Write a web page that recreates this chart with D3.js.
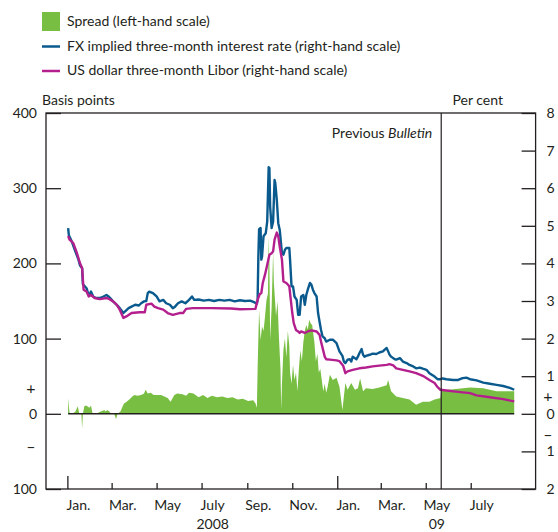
<!DOCTYPE html>
<html><head><meta charset="utf-8">
<script src="https://cdn.jsdelivr.net/npm/d3@7"></script>
<style>
html,body{margin:0;padding:0;background:#fff;}
svg text{font-family:Lato,"Open Sans",sans-serif;fill:#231f20;}
</style></head>
<body><svg id="chart" width="558" height="532"></svg>
<script>
// ---- DATA ----
const legendLabels = ["Spread (left-hand scale)", "FX implied three-month interest rate (right-hand scale)", "US dollar three-month Libor (right-hand scale)"];
const leftTickValues = [400, 300, 200, 100, 0, -100];
const rightTickValues = [8, 7, 6, 5, 4, 3, 2, 1, 0, -1, -2];
const monthTickDates = ["2008-01-01","2008-03-01","2008-05-01","2008-07-01","2008-09-01","2008-11-01","2009-01-01","2009-03-01","2009-05-01","2009-07-01"];
const monthLabels = ["Jan.","Mar.","May","July","Sep.","Nov.","Jan.","Mar.","May","July"];
const yearLabels = ["2008","09"];
const yearLabelDates = ["2008-07-16","2009-05-16"];
const previousBulletinDate = "2009-05-22";

const fxDates = ["2008-01-02","2008-01-03","2008-01-07","2008-01-11","2008-01-16","2008-01-18","2008-01-21","2008-01-22","2008-01-24","2008-01-27","2008-01-29","2008-01-31","2008-02-02","2008-02-05","2008-02-09","2008-02-14","2008-02-19","2008-02-23","2008-02-26","2008-02-28","2008-03-03","2008-03-08","2008-03-12","2008-03-17","2008-03-19","2008-03-24","2008-03-28","2008-04-02","2008-04-07","2008-04-10","2008-04-14","2008-04-17","2008-04-19","2008-04-21","2008-04-26","2008-05-01","2008-05-05","2008-05-10","2008-05-14","2008-05-19","2008-05-23","2008-05-26","2008-05-30","2008-06-04","2008-06-09","2008-06-14","2008-06-18","2008-06-21","2008-06-27","2008-07-04","2008-07-11","2008-07-18","2008-07-25","2008-08-01","2008-08-08","2008-08-15","2008-08-22","2008-08-29","2008-09-05","2008-09-10","2008-09-14","2008-09-15","2008-09-16","2008-09-17","2008-09-19","2008-09-20","2008-09-21","2008-09-23","2008-09-26","2008-09-28","2008-09-30","2008-10-01","2008-10-02","2008-10-04","2008-10-06","2008-10-08","2008-10-09","2008-10-11","2008-10-13","2008-10-15","2008-10-18","2008-10-20","2008-10-22","2008-10-24","2008-10-28","2008-10-29","2008-10-31","2008-11-02","2008-11-04","2008-11-07","2008-11-09","2008-11-11","2008-11-13","2008-11-16","2008-11-18","2008-11-20","2008-11-22","2008-11-25","2008-11-27","2008-11-29","2008-12-01","2008-12-04","2008-12-06","2008-12-08","2008-12-10","2008-12-12","2008-12-15","2008-12-17","2008-12-22","2008-12-26","2008-12-31","2009-01-04","2009-01-08","2009-01-10","2009-01-12","2009-01-15","2009-01-18","2009-01-20","2009-01-22","2009-01-25","2009-01-27","2009-01-29","2009-01-31","2009-02-03","2009-02-05","2009-02-07","2009-02-09","2009-02-14","2009-02-18","2009-02-23","2009-02-27","2009-03-04","2009-03-06","2009-03-09","2009-03-11","2009-03-13","2009-03-15","2009-03-20","2009-03-22","2009-03-27","2009-03-31","2009-04-05","2009-04-09","2009-04-14","2009-04-18","2009-04-23","2009-04-27","2009-05-02","2009-05-06","2009-05-13","2009-05-17","2009-05-21","2009-05-24","2009-05-29","2009-06-07","2009-06-14","2009-06-20","2009-06-25","2009-06-30","2009-07-09","2009-07-18","2009-07-27","2009-08-05","2009-08-14","2009-08-23","2009-08-29"];
const fxValues = [4.94,4.75,4.58,4.36,4.10,3.95,3.87,3.45,3.40,3.34,3.21,3.16,3.25,3.12,3.08,3.08,3.12,3.16,3.12,3.08,2.99,2.90,2.81,2.68,2.72,2.81,2.85,2.90,2.88,2.94,2.99,3.00,3.21,3.25,3.21,3.12,2.99,3.03,2.94,2.90,2.81,2.85,2.94,2.99,2.94,3.03,3.12,3.03,3.04,3.01,3.03,3.00,3.03,3.01,3.03,2.99,3.02,3.00,3.01,2.97,2.93,3.03,4.18,4.91,4.94,4.10,4.18,4.72,4.80,5.11,6.56,6.53,5.51,4.94,5.11,6.22,6.13,5.69,5.07,4.89,4.27,4.23,4.36,4.41,4.41,4.10,3.39,3.39,3.12,3.03,2.63,2.63,3.12,3.16,2.90,3.16,3.30,3.48,3.43,3.30,3.21,3.12,2.68,2.45,2.23,2.06,2.01,1.92,1.97,1.97,1.88,1.66,1.54,1.39,1.35,1.44,1.45,1.39,1.52,1.48,1.45,1.52,1.61,1.72,1.57,1.52,1.54,1.57,1.60,1.59,1.63,1.66,1.70,1.75,1.66,1.57,1.52,1.45,1.44,1.48,1.39,1.35,1.30,1.26,1.21,1.23,1.20,1.17,1.08,0.99,0.92,0.92,0.94,0.92,0.90,0.90,0.95,0.96,0.92,0.89,0.83,0.80,0.77,0.74,0.69,0.64];

const liborDates = ["2008-01-02","2008-01-04","2008-01-09","2008-01-14","2008-01-18","2008-01-21","2008-01-23","2008-01-27","2008-01-30","2008-02-02","2008-02-07","2008-02-14","2008-02-23","2008-02-27","2008-03-03","2008-03-08","2008-03-12","2008-03-17","2008-03-21","2008-03-28","2008-04-08","2008-04-15","2008-04-17","2008-04-24","2008-04-28","2008-05-03","2008-05-10","2008-05-16","2008-05-23","2008-06-01","2008-06-06","2008-06-10","2008-06-19","2008-07-15","2008-08-10","2008-08-22","2008-09-12","2008-09-15","2008-09-18","2008-09-20","2008-09-22","2008-09-25","2008-09-27","2008-10-01","2008-10-04","2008-10-06","2008-10-08","2008-10-11","2008-10-13","2008-10-15","2008-10-18","2008-10-20","2008-10-24","2008-10-28","2008-10-30","2008-11-01","2008-11-03","2008-11-06","2008-11-09","2008-11-11","2008-11-13","2008-11-18","2008-11-22","2008-11-27","2008-12-04","2008-12-08","2008-12-10","2008-12-15","2008-12-17","2008-12-22","2008-12-31","2009-01-04","2009-01-09","2009-01-12","2009-01-15","2009-01-22","2009-01-31","2009-02-09","2009-02-18","2009-02-27","2009-03-09","2009-03-13","2009-03-18","2009-03-22","2009-03-31","2009-04-09","2009-04-18","2009-04-27","2009-05-06","2009-05-13","2009-05-17","2009-05-21","2009-05-29","2009-06-11","2009-06-20","2009-06-30","2009-07-09","2009-07-27","2009-08-14","2009-08-29"];
const liborValues = [4.73,4.63,4.54,4.27,4.01,3.87,3.30,3.25,3.12,3.16,3.08,3.05,3.08,3.05,2.99,2.90,2.77,2.55,2.59,2.68,2.70,2.70,2.90,2.93,2.85,2.81,2.77,2.68,2.63,2.68,2.68,2.79,2.81,2.81,2.80,2.78,2.79,3.03,3.19,3.21,3.48,3.70,3.87,4.23,4.27,4.32,4.63,4.82,4.72,4.45,4.10,3.52,3.48,3.39,3.03,2.68,2.41,2.23,2.19,2.15,2.19,2.15,2.19,2.22,2.19,2.10,1.92,1.52,1.45,1.44,1.42,1.40,1.28,1.08,1.13,1.17,1.21,1.23,1.26,1.28,1.30,1.32,1.29,1.21,1.17,1.13,1.08,1.01,0.90,0.82,0.71,0.64,0.62,0.59,0.57,0.55,0.49,0.44,0.39,0.33];

const spreadDates = ["2008-01-02","2008-01-03","2008-01-04","2008-01-08","2008-01-12","2008-01-15","2008-01-17","2008-01-20","2008-01-21","2008-01-22","2008-01-24","2008-01-26","2008-01-28","2008-01-31","2008-02-02","2008-02-04","2008-02-06","2008-02-11","2008-02-15","2008-02-18","2008-02-20","2008-02-22","2008-02-24","2008-02-27","2008-02-29","2008-03-04","2008-03-07","2008-03-09","2008-03-13","2008-03-16","2008-03-18","2008-03-20","2008-03-25","2008-03-29","2008-04-01","2008-04-05","2008-04-10","2008-04-14","2008-04-16","2008-04-19","2008-04-23","2008-04-27","2008-05-07","2008-05-16","2008-05-20","2008-05-25","2008-05-29","2008-06-05","2008-06-10","2008-06-14","2008-06-20","2008-06-27","2008-07-03","2008-07-09","2008-07-15","2008-07-22","2008-07-29","2008-08-05","2008-08-12","2008-08-19","2008-08-26","2008-09-02","2008-09-09","2008-09-12","2008-09-14","2008-09-15","2008-09-16","2008-09-17","2008-09-19","2008-09-21","2008-09-23","2008-09-25","2008-09-27","2008-09-29","2008-09-30","2008-10-01","2008-10-02","2008-10-04","2008-10-06","2008-10-07","2008-10-08","2008-10-10","2008-10-12","2008-10-14","2008-10-16","2008-10-17","2008-10-18","2008-10-20","2008-10-22","2008-10-24","2008-10-26","2008-10-28","2008-10-29","2008-10-31","2008-11-02","2008-11-04","2008-11-06","2008-11-08","2008-11-10","2008-11-12","2008-11-14","2008-11-16","2008-11-18","2008-11-20","2008-11-22","2008-11-24","2008-11-26","2008-11-28","2008-12-01","2008-12-03","2008-12-05","2008-12-07","2008-12-09","2008-12-11","2008-12-13","2008-12-15","2008-12-17","2008-12-19","2008-12-22","2008-12-26","2008-12-31","2009-01-04","2009-01-08","2009-01-12","2009-01-15","2009-01-20","2009-01-25","2009-01-29","2009-02-01","2009-02-05","2009-02-09","2009-02-18","2009-02-27","2009-03-09","2009-03-11","2009-03-15","2009-03-22","2009-03-31","2009-04-09","2009-04-18","2009-04-27","2009-05-06","2009-05-13","2009-05-21","2009-05-22","2009-06-11","2009-06-30","2009-07-18","2009-08-05","2009-08-29"];
const spreadValues = [21,10,1,0,3,10,1,0,-20,0,10,11,10,8,11,1,0,1,3,4,5,3,5,3,0,1,-7,0,3,10,14,15,19,23,25,24,25,27,32,27,28,25,25,21,16,25,27,26,24,28,27,22,25,21,24,22,23,21,22,19,20,17,18,14,8,60,100,138,98,116,110,129,151,160,235,200,98,142,215,175,160,130,150,100,60,5,40,85,100,75,110,90,55,40,65,45,55,30,60,85,70,95,110,118,112,125,120,118,95,70,80,55,60,45,30,40,28,36,52,45,48,36,5,41,32,41,32,34,47,30,34,33,35,38,45,30,23,21,19,12,16,16,19,21,31,33,35,34,30,30];

// ---- CHART ----
const parse = d3.timeParse("%Y-%m-%d");
const svg = d3.select("#chart");
const green = "#78be43", blue = "#0a5a8e", magenta = "#b41f8e", ink = "#231f20";

const x = d3.scaleTime().domain([parse("2007-12-03"), parse("2009-09-27")]).range([46, 535.6]);
const yL = d3.scaleLinear().domain([-100, 400]).range([489, 113]);
const yR = d3.scaleLinear().domain([-2, 8]).range([489, 113]);

const fx = fxDates.map((d, i) => ({ date: parse(d), v: fxValues[i] }));
const libor = liborDates.map((d, i) => ({ date: parse(d), v: liborValues[i] }));
const spread = spreadDates.map((d, i) => ({ date: parse(d), v: spreadValues[i] }));

// spread area
svg.append("path").datum(spread)
  .attr("fill", green)
  .attr("d", d3.area().x(d => x(d.date)).y0(yL(0)).y1(d => yL(d.v)));

// zero line across data
svg.append("line")
  .attr("x1", x(spread[0].date)).attr("x2", x(spread[spread.length - 1].date))
  .attr("y1", yL(0)).attr("y2", yL(0))
  .attr("stroke", ink).attr("stroke-width", 1.5);

const line = d3.line().x(d => x(d.date)).y(d => yR(d.v));
svg.append("path").datum(fx).attr("fill", "none").attr("stroke", blue)
  .attr("stroke-width", 2.4).attr("stroke-linejoin", "round").attr("d", line);
svg.append("path").datum(libor).attr("fill", "none").attr("stroke", magenta)
  .attr("stroke-width", 2.4).attr("stroke-linejoin", "round").attr("d", line);

// previous bulletin line
const pb = x(parse(previousBulletinDate));
svg.append("line").attr("x1", pb).attr("x2", pb).attr("y1", yL(400)).attr("y2", yL(-100))
  .attr("stroke", ink).attr("stroke-width", 1.2);
const pbt = svg.append("text").attr("x", pb - 9).attr("y", 138).attr("text-anchor", "end")
  .attr("font-size", 14);
pbt.append("tspan").text("Previous ");
pbt.append("tspan").attr("font-style", "italic").text("Bulletin");

// frame
svg.append("rect").attr("x", x.range()[0]).attr("y", yL(400))
  .attr("width", x.range()[1] - x.range()[0]).attr("height", yL(-100) - yL(400))
  .attr("fill", "none").attr("stroke", ink).attr("stroke-width", 1.3);

// left axis
const gL = svg.append("g").attr("transform", `translate(${x.range()[0]},0)`)
  .call(d3.axisLeft(yL).tickValues(leftTickValues).tickSize(-15).tickPadding(9).tickFormat(d => Math.abs(d)));
gL.select(".domain").remove();
gL.selectAll("line").attr("stroke", ink).attr("stroke-width", 1.3);
gL.selectAll("text").attr("font-size", 14).attr("font-family", "Lato").attr("fill", ink);

// right axis
const gR = svg.append("g").attr("transform", `translate(${x.range()[1]},0)`)
  .call(d3.axisRight(yR).tickValues(rightTickValues).tickSize(-14).tickPadding(11).tickFormat(d => Math.abs(d)));
gR.select(".domain").remove();
gR.selectAll("line").attr("stroke", ink).attr("stroke-width", 1.3);
gR.selectAll("text").attr("font-size", 14).attr("font-family", "Lato").attr("fill", ink);

// plus / minus signs
const signs = [
  { t: "+", x: 31, y: yL(0) - 25 }, { t: "\u2013", x: 31, y: yL(0) + 33 },
  { t: "+", x: 548, y: yR(0) - 17 }, { t: "\u2013", x: 548, y: yR(0) + 21 }
];
svg.selectAll(".sign").data(signs).join("text").attr("class", "sign")
  .attr("x", d => d.x).attr("y", d => d.y).attr("dy", "0.35em")
  .attr("text-anchor", "middle").attr("font-size", 16).text(d => d.t);

// axis titles
svg.append("text").attr("x", 42).attr("y", 105).attr("font-size", 14).text("Basis points");
svg.append("text").attr("x", 503).attr("y", 105).attr("text-anchor", "end").attr("font-size", 14).text("Per cent");

// bottom ticks
const mDates = monthTickDates.map(parse);
const gB = svg.append("g").attr("transform", `translate(0,${yL(-100)})`)
  .call(d3.axisBottom(x).tickValues(mDates).tickSize(0).tickFormat(""));
gB.select(".domain").remove();
gB.selectAll(".tick line").attr("y2", d => d.getMonth() === 0 ? -13 : -6)
  .attr("stroke", ink).attr("stroke-width", 1.3);

// month labels centred mid-month
svg.selectAll(".mlab").data(mDates).join("text").attr("class", "mlab")
  .attr("x", d => x(d3.timeDay.offset(d, 15))).attr("y", 510)
  .attr("text-anchor", "middle").attr("font-size", 14)
  .text((d, i) => monthLabels[i]);
svg.selectAll(".ylab").data(yearLabelDates).join("text").attr("class", "ylab")
  .attr("x", d => x(parse(d))).attr("y", 529)
  .attr("text-anchor", "middle").attr("font-size", 14)
  .text((d, i) => yearLabels[i]);

// legend
const lg = svg.append("g");
lg.append("rect").attr("x", 42).attr("y", 12).attr("width", 18).attr("height", 19).attr("fill", green);
[blue, magenta].forEach((c, i) => {
  lg.append("line").attr("x1", 42).attr("x2", 60).attr("y1", 46.5 + i * 24.5).attr("y2", 46.5 + i * 24.5)
    .attr("stroke", c).attr("stroke-width", 2.5);
});
legendLabels.forEach((t, i) => {
  lg.append("text").attr("x", 67).attr("y", 21.5 + i * 24.5).attr("dy", "0.35em").attr("font-size", 14).text(t);
});
</script></body></html>
